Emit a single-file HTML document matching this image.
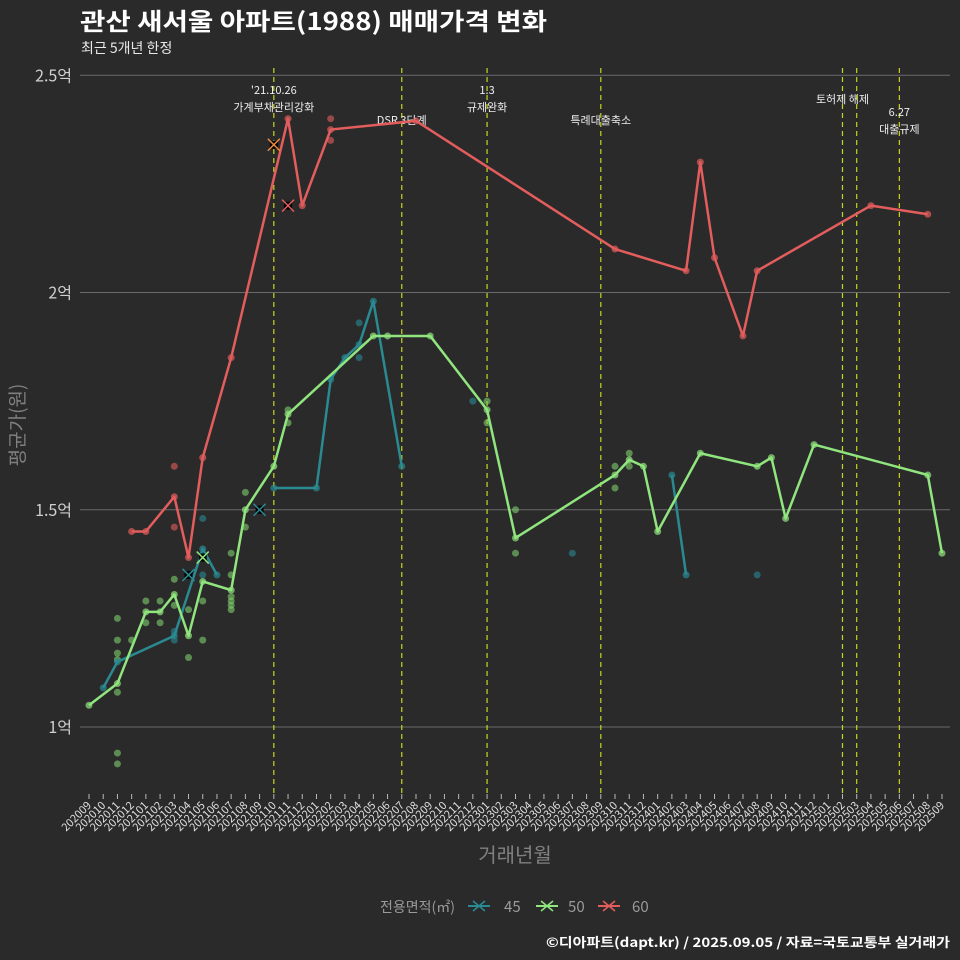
<!DOCTYPE html>
<html><head><meta charset="utf-8"><style>
body{margin:0;background:#2a2a2b;}
svg{display:block;font-family:"Noto Sans CJK KR","Liberation Sans",sans-serif;}
</style></head><body>
<svg id="c" width="960" height="960" viewBox="0 0 960 960">
<rect width="960" height="960" fill="#2a2a2b"/>
<text x="80" y="30" fill="#fff" font-size="24" font-weight="bold" textLength="467" lengthAdjust="spacingAndGlyphs">관산 새서울 아파트(1988) 매매가격 변화</text>
<text x="81" y="53" fill="#e8e8e8" font-size="14">최근 5개년 한정</text>
<g id="grid"></g><g id="events"></g><g id="series"></g><g id="axes"></g>
<text transform="translate(24,425) rotate(-90)" text-anchor="middle" fill="#808080" font-size="19">평균가(원)</text>
<text x="515" y="862" text-anchor="middle" fill="#808080" font-size="20">거래년월</text>
<g>
<text x="380" y="912" fill="#9a9a9a" font-size="14">전용면적(㎡)</text>
<g><line x1="468" y1="906" x2="490" y2="906" stroke="#2a8a92" stroke-width="2"/><path d="M473 901l12 10M485 901l-12 10" stroke="#2a8a92" stroke-width="1.5"/><text x="504" y="912" fill="#9a9a9a" font-size="15">45</text></g>
<g><line x1="536" y1="906" x2="558" y2="906" stroke="#90e57e" stroke-width="2"/><path d="M541 901l12 10M553 901l-12 10" stroke="#90e57e" stroke-width="1.5"/><text x="568" y="912" fill="#9a9a9a" font-size="15">50</text></g>
<g><line x1="598" y1="906" x2="620" y2="906" stroke="#e35d5d" stroke-width="2"/><path d="M603 901l12 10M615 901l-12 10" stroke="#e35d5d" stroke-width="1.5"/><text x="632" y="912" fill="#9a9a9a" font-size="15">60</text></g>
</g>
<text x="950" y="947" text-anchor="end" fill="#fff" font-size="13" font-weight="bold" textLength="404" lengthAdjust="spacingAndGlyphs">©디아파트(dapt.kr) / 2025.09.05 / 자료=국토교통부 실거래가</text>
</svg>
<script>
const months=[];for(let y=2020,m=9;!(y===2025&&m===10);){months.push(''+y+(m<10?'0':'')+m);m++;if(m>12){m=1;y++;}}
const yTicks=[1,1.5,2,2.5];
const yTickLabels=['1억','1.5억','2억','2.5억'];
const redLine=[['202012',1.45],['202101',1.45],['202103',1.53],['202104',1.39],['202105',1.62],['202107',1.85],['202111',2.40],['202112',2.20],['202202',2.375],['202208',2.395],['202310',2.10],['202403',2.05],['202404',2.30],['202405',2.08],['202407',1.90],['202408',2.05],['202504',2.20],['202508',2.18]];
const greenLine=[['202009',1.05],['202011',1.10],['202101',1.265],['202102',1.265],['202103',1.305],['202104',1.21],['202105',1.335],['202107',1.315],['202108',1.50],['202110',1.60],['202111',1.72],['202205',1.90],['202206',1.90],['202209',1.90],['202301',1.73],['202303',1.435],['202310',1.58],['202311',1.615],['202312',1.60],['202401',1.45],['202404',1.63],['202408',1.60],['202409',1.62],['202410',1.48],['202412',1.65],['202508',1.58],['202509',1.40]];
const tealSeg1=[['202010',1.09],['202011',1.15],['202103',1.21],['202105',1.41],['202106',1.35]];
const tealSeg2=[['202110',1.55],['202201',1.55],['202202',1.80],['202203',1.85],['202204',1.88],['202205',1.98],['202207',1.60]];
const tealSeg3=[['202402',1.58],['202403',1.35]];
const redPts=[['202103',1.60],['202103',1.46],['202202',2.40],['202202',2.35]];
const greenPts=[['202011',1.25],['202011',1.20],['202011',1.17],['202011',1.155],['202011',1.08],['202011',0.94],['202011',0.915],['202012',1.20],['202101',1.29],['202101',1.24],['202102',1.29],['202102',1.24],['202103',1.34],['202103',1.28],['202104',1.27],['202104',1.16],['202105',1.29],['202105',1.20],['202107',1.40],['202107',1.35],['202107',1.30],['202107',1.29],['202107',1.28],['202107',1.27],['202108',1.46],['202108',1.54],['202111',1.70],['202111',1.73],['202301',1.75],['202301',1.70],['202303',1.40],['202303',1.50],['202310',1.60],['202310',1.55],['202311',1.63],['202311',1.60]];
const tealPts=[['202103',1.20],['202103',1.22],['202105',1.48],['202105',1.35],['202204',1.93],['202204',1.85],['202212',1.75],['202307',1.40],['202408',1.35]];
const crossPts=[['202104',1.35,'#2a8a92'],['202109',1.50,'#2a8a92'],['202105',1.39,'#90e57e'],['202110',2.34,'#f08a3c'],['202111',2.20,'#e35d5d']];
const events=[['202110',"'21.10.26",'가계부채관리강화',90],['202207','','DSR 3단계',120],['202301','1.3','규제완화',90],['202309','','특례대출축소',120],['202502','','토허제 해제',99],['202503','','',0],['202506','6.27','대출규제',112]];

const NS='http://www.w3.org/2000/svg';
const X0=89,X1=942,Y1=727,PER=434.5;
const xs=m=>X0+months.indexOf(m)*(X1-X0)/(months.length-1);
const ys=v=>Y1-(v-1)*PER;
function mk(t,a,p){const e=document.createElementNS(NS,t);for(const k in a)e.setAttribute(k,a[k]);p.appendChild(e);return e;}
const G=document.getElementById('grid'),E=document.getElementById('events'),S=document.getElementById('series'),A=document.getElementById('axes');
yTicks.forEach((v,i)=>{
  const l=mk('line',{x1:80,x2:950,y1:ys(v),y2:ys(v),stroke:'#6a6a6a','stroke-width':1},G);
  
  
  const t=mk('text',{x:72,y:ys(v)+6,'text-anchor':'end',fill:'#d0d0d0','font-size':16},A);
  t.textContent=yTickLabels[i];
  
  
});
months.forEach(m=>{
  const x=xs(m);
  const tk=mk('line',{x1:x,x2:x,y1:794,y2:799,stroke:'#bbb','stroke-width':1},A);
  
  
  const t=mk('text',{x:x+3,y:806,'text-anchor':'end',fill:'#e0e0e0','font-size':11,transform:`rotate(-45 ${x+3} 806)`},A);
  t.textContent=m;
  
  
});
events.forEach(ev=>{
  const x=xs(ev[0]);
  const l=mk('line',{x1:x,x2:x,y1:68,y2:794,stroke:'#c8d41e','stroke-width':1.2,'stroke-dasharray':'5,4'},E);
  
  
  if(ev[1]){const t=mk('text',{x:x,y:ev[3]+4,'text-anchor':'middle',fill:'#eee','font-size':11},E);t.textContent=ev[1];
    
    }
  if(ev[2]){const t=mk('text',{x:x,y:(ev[1]?ev[3]+21:ev[3]+4),'text-anchor':'middle',fill:'#eee','font-size':11},E);t.textContent=ev[2];
    
    }
});
function line(arr,col,name){
  const p=mk('polyline',{points:arr.map(d=>xs(d[0])+','+ys(d[1])).join(' '),fill:'none',stroke:col,'stroke-width':2.5,'stroke-linejoin':'round'},S);
  
  
  arr.forEach(d=>{const c=mk('circle',{cx:xs(d[0]),cy:ys(d[1]),r:3.5,fill:col,'fill-opacity':0.7},S);
    
    });
}
function pts(arr,col){arr.forEach(d=>{const c=mk('circle',{cx:xs(d[0]),cy:ys(d[1]),r:3.5,fill:col,'fill-opacity':0.6},S);
  
  });}
pts(tealPts,'#2a8a92');pts(greenPts,'#7fcf6a');pts(redPts,'#e35d5d');
line(tealSeg1,'#2a8a92','line-45');line(tealSeg2,'#2a8a92','line-45');line(tealSeg3,'#2a8a92','line-45');
line(greenLine,'#90e57e','line-50');
line(redLine,'#e35d5d','line-60');
crossPts.forEach(d=>{const x=xs(d[0]),y=ys(d[1]);
  const g=mk('g',{},S);
  
  
  mk('rect',{x:x-4,y:y-4,width:8,height:8,fill:'#000'},g);
  mk('path',{d:`M${x-6} ${y-6}L${x+6} ${y+6}M${x+6} ${y-6}L${x-6} ${y+6}`,stroke:d[2],'stroke-width':1.5},g);
});
</script>
</body></html>
